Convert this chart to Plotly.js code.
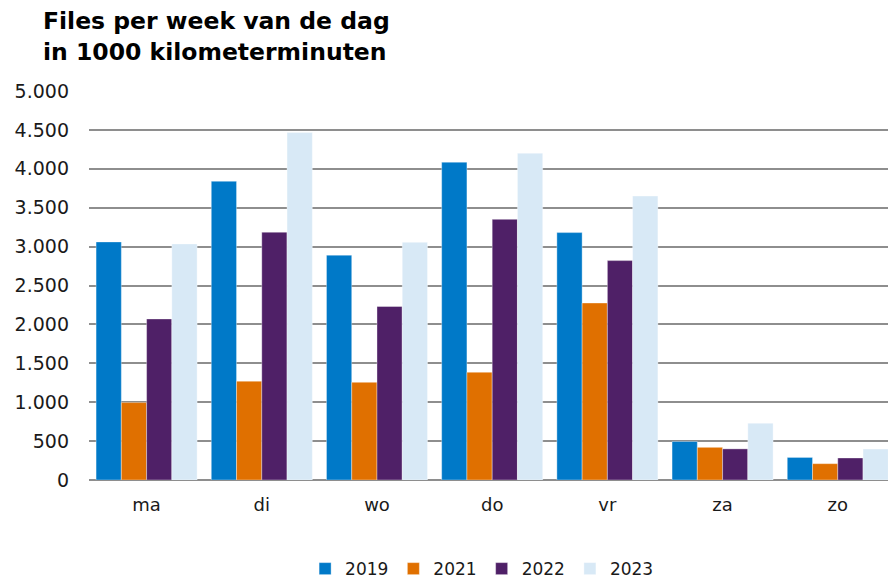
<!DOCTYPE html>
<html>
<head>
<meta charset="utf-8">
<script src="https://cdn.plot.ly/plotly-3.0.1.min.js"></script>
<style>
  html, body { margin: 0; padding: 0; background: #fff; }
  #chart { width: 888px; height: 582px; }
</style>
</head>
<body>
<div id="chart"></div>
<script>
var days = ['ma', 'di', 'wo', 'do', 'vr', 'za', 'zo'];
var y2019 = [3060, 3840, 2890, 4085, 3180, 495, 290];
var y2021 = [995, 1270, 1255, 1385, 2275, 420, 210];
var y2022 = [2070, 3185, 2230, 3350, 2820, 400, 283];
var y2023 = [3035, 4465, 3055, 4200, 3650, 730, 398];
var years = ['2019', '2021', '2022', '2023'];
var colors = ['#0079C8', '#E07000', '#4F2067', '#D8E9F6'];

var series = [y2019, y2021, y2022, y2023];
var data = series.map(function (vals, i) {
    return {
        type: 'bar',
        x: days,
        y: vals,
        name: years[i],
        marker: {
            color: colors[i],
            line: { color: 'rgba(255,255,255,0.6)', width: 0.6 }
        }
    };
});

var layout = {
    width: 888,
    height: 582,
    margin: { l: 89, r: 0, t: 91, b: 102, autoexpand: false },
    paper_bgcolor: '#fff',
    plot_bgcolor: '#fff',
    separators: ',.',
    font: { family: 'DejaVu Sans, Verdana, sans-serif', size: 16, color: '#1a1a1a' },
    annotations: [{
        text: 'Files per week van de dag<br>in 1000 kilometerminuten',
        font: { family: 'DejaVu Sans, Verdana, sans-serif', size: 23.5, color: '#000', weight: 'bold' },
        xref: 'paper', yref: 'paper',
        x: (41 - 89) / 799, xanchor: 'left',
        y: 1 + (91 - 5) / 389, yanchor: 'top',
        align: 'left',
        showarrow: false
    }],
    barmode: 'group',
    bargap: 0.123,
    bargroupgap: 0,
    xaxis: {
        type: 'category',
        range: [-0.5, 6.436],
        showgrid: false,
        showline: false,
        ticks: '',
        ticklabelstandoff: 12,
        tickfont: { size: 18 }
    },
    yaxis: {
        range: [0, 5000],
        dtick: 500,
        tickformat: ',d',
        showgrid: true,
        gridcolor: '#8e8e8e',
        gridwidth: 2,
        zeroline: true,
        zerolinecolor: '#8e8e8e',
        zerolinewidth: 2,
        ticks: '',
        ticklabelstandoff: 19,
        tickfont: { size: 19 }
    },
    showlegend: true,
    legend: {
        orientation: 'h',
        x: 0.492, xanchor: 'center',
        y: -0.229, yanchor: 'middle',
        font: { size: 17 },
        traceorder: 'normal'
    }
};

Plotly.newPlot('chart', data, layout, { displayModeBar: false, staticPlot: true });
</script>
</body>
</html>
